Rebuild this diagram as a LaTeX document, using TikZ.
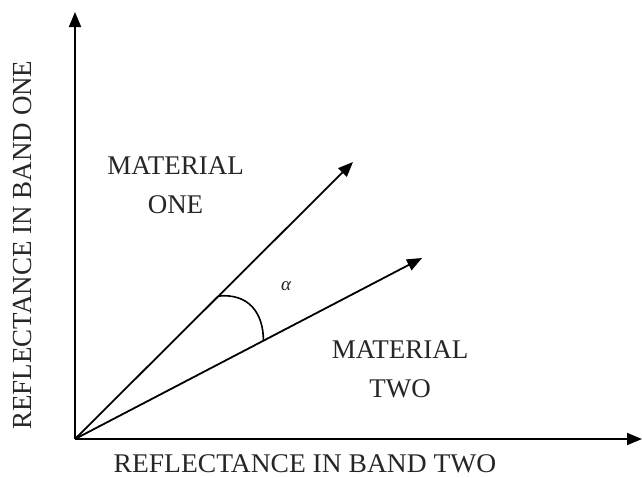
\documentclass[tikz,border=0pt]{standalone}
\usepackage{fontspec}
\setmainfont{Liberation Serif}
\usetikzlibrary{arrows.meta,calc}
\begin{document}
\begin{tikzpicture}[x=1pt,y=-1pt,
  axis/.style={line width=1.8pt,-{Triangle[length=15pt,width=12pt]}},
  vec/.style={line width=1.8pt,-{Triangle[length=15pt,width=12pt]}},
  lbl/.style={font=\fontsize{27}{32}\selectfont,inner sep=0pt,align=center,text=black!85}]
\useasboundingbox (0,0) rectangle (642,477);
\coordinate (O) at (75,439);
\coordinate (Ytip) at (75,12);
\coordinate (Xtip) at (642,439);
\coordinate (T1) at (353,162);
\coordinate (T2) at (422,258);
\draw[axis] (O) -- (Ytip);
\draw[axis] (O) -- (Xtip);
\draw[vec] (O) -- (T1);
\draw[vec] (O) -- (T2);
\coordinate (A1) at ($(O)!0.516!(T1)$);
\coordinate (A2) at ($(O)!0.543!(T2)$);
\draw[line width=1.6pt] (A1) .. controls ($(A1)+(30,-3)$) and ($(A2)+(0,-28)$) .. (A2);
\node[text=black!85] (alpha) at (286,286) {\fontsize{19}{22}\selectfont\itshape α};
\node[lbl] (m1) at (175.5,185) {MATERIAL\\[7pt]ONE};
\node[lbl] (m2) at (400,369.5) {MATERIAL\\[7pt]TWO};
\node[lbl,xscale=1.02,anchor=base,text depth=0pt] (xl) at (305,472) {REFLECTANCE IN BAND TWO};
\node[lbl,xscale=1.02,rotate=90] (yl) at (23,245) {REFLECTANCE IN BAND ONE};
\end{tikzpicture}
\end{document}
